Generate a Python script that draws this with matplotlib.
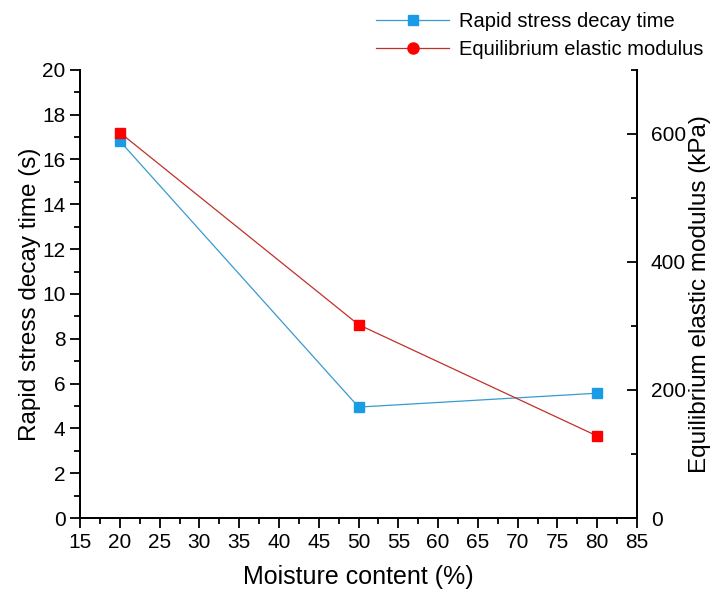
import matplotlib.pyplot as plt
from matplotlib.ticker import MultipleLocator

plt.rcParams['font.family'] = ['Liberation Sans', 'DejaVu Sans']

# moisture content (%) and the two measured properties
moisture = [20, 50, 80]
decay_time = [16.82, 4.95, 5.57]        # s
elastic_modulus = [602, 302, 128]       # kPa

blue = '#1a9be6'
red = '#ff0000'

fig = plt.figure(figsize=(7.15, 5.92), dpi=100)
ax = fig.add_axes([0.112, 0.125, 0.779, 0.757])
ax2 = ax.twinx()

l1, = ax.plot(moisture, decay_time, color='#3a9ad0', lw=0.9, marker='s', ms=7.5,
              mfc=blue, mec=blue, label='Rapid stress decay time')
ax2.plot(moisture, elastic_modulus, color='#c0302a', lw=0.9, marker='s', ms=7.5,
         mfc=red, mec=red)
# legend shows a round marker for the modulus series
l2, = ax2.plot([], [], color='#c0302a', lw=0.9, marker='o', ms=8,
               mfc=red, mec=red, label='Equilibrium elastic modulus')

ax.set_xlim(15, 85)
ax.set_ylim(0, 20)
ax2.set_ylim(0, 700)

ax.xaxis.set_major_locator(MultipleLocator(5))
ax.xaxis.set_minor_locator(MultipleLocator(2.5))
ax.yaxis.set_major_locator(MultipleLocator(2))
ax.yaxis.set_minor_locator(MultipleLocator(1))
ax2.yaxis.set_major_locator(MultipleLocator(200))
ax2.yaxis.set_minor_locator(MultipleLocator(100))

for a in (ax, ax2):
    for s in a.spines.values():
        s.set_linewidth(1.3)
ax.spines['top'].set_visible(False)
ax2.spines['top'].set_visible(False)

ax.tick_params(axis='both', which='major', direction='out', length=7, width=1.3,
               labelsize=15)
ax.tick_params(axis='both', which='minor', direction='out', length=4, width=1.3)
ax.tick_params(axis='y', right=False)
ax2.tick_params(axis='y', which='major', direction='in', length=7, width=1.3,
                labelsize=15, pad=10)
ax2.tick_params(axis='y', which='minor', direction='in', length=4, width=1.3)

ax.set_xlabel('Moisture content (%)', fontsize=18, labelpad=10)
ax.set_ylabel('Rapid stress decay time (s)', fontsize=17.5, labelpad=1)
ax2.set_ylabel('Equilibrium elastic modulus (kPa)', fontsize=17.5, labelpad=2)

fig.legend(handles=[l1, l2], loc='upper left', bbox_to_anchor=(0.515, 0.993),
           frameon=False, fontsize=14.5, handlelength=3.6, handletextpad=0.5,
           labelspacing=0.45, borderaxespad=0)

fig.savefig('out.png', dpi=100)
